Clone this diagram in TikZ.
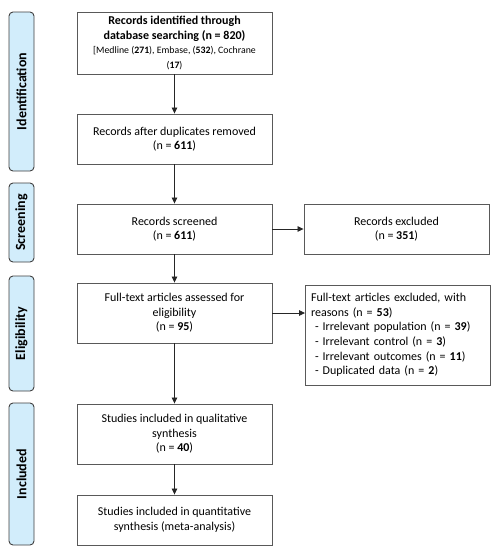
\documentclass[tikz,border=0pt]{standalone}
\usepackage{fontspec}
\setmainfont{Carlito}
\usetikzlibrary{arrows.meta}
\definecolor{sidefill}{HTML}{D2EDFB}
\definecolor{sidedraw}{HTML}{3F3F3F}
\definecolor{boxdraw}{HTML}{595959}
\tikzset{
  flowbox/.style={draw=boxdraw, line width=0.9pt, fill=white, inner sep=0pt, align=center,
    font=\fontsize{12}{14.6}\selectfont},
  sidebox/.style={draw=sidedraw, line width=0.9pt, fill=sidefill, rounded corners=4pt,
    minimum width=25pt, inner sep=0pt},
  sidelabel/.style={rotate=90, font=\fontsize{14}{16}\selectfont\bfseries},
  flowarrow/.style={draw=black!85, line width=0.8pt, -{Triangle[length=6pt,width=5.5pt]}}
}
\begin{document}
\begin{tikzpicture}[x=1pt,y=-1pt]
\useasboundingbox (0,0) rectangle (499,550);
% side bars
\node[sidebox, minimum height=159pt] (sid) at (21.5,91.5) {};
\node[sidelabel] (lid) at (sid.center) {Identification};
\node[sidebox, minimum height=79pt] (ssc) at (21.5,222.5) {};
\node[sidelabel] (lsc) at (ssc.center) {Screening};
\node[sidebox, minimum height=115pt] (sel) at (21.5,333.5) {};
\node[sidelabel] (lel) at (sel.center) {Eligibility};
\node[sidebox, minimum height=142pt] (sin) at (21.5,474) {};
\node[sidelabel] (lin) at (sin.center) {Included};
% main boxes
\node[flowbox, minimum width=195pt, minimum height=62pt] (b1) at (174.5,43)
  {\textbf{Records identified through}\\\textbf{database searching (n = 820)}\\[-0.5pt]
   {\fontsize{9.8}{14}\selectfont [Medline (\textbf{271}), Embase, (\textbf{532}), Cochrane}\\
   {\fontsize{9.8}{14}\selectfont (\textbf{17})}};
\node[flowbox, minimum width=195pt, minimum height=50pt] (b2) at (174.5,139)
  {Records after duplicates removed\\(n = \textbf{611})};
\node[flowbox, minimum width=195pt, minimum height=50pt] (b3) at (174.5,229)
  {Records screened\\(n = \textbf{611})};
\node[flowbox, minimum width=185pt, minimum height=50pt] (r3) at (396.5,229)
  {Records excluded\\(n = \textbf{351})};
\node[flowbox, minimum width=195pt, minimum height=60pt] (b4) at (174.5,313)
  {Full-text articles assessed for\\eligibility\\(n = \textbf{95})};
\node[flowbox, minimum width=185pt, minimum height=100pt, align=left, text width=174pt] (r4) at (398,335)
  {Full-text articles excluded, with\\reasons (n = \textbf{53})\\
   \hspace*{4pt}- Irrelevant population (n = \textbf{39})\\
   \hspace*{4pt}- Irrelevant control (n = \textbf{3})\\
   \hspace*{4pt}- Irrelevant outcomes (n = \textbf{11})\\
   \hspace*{4pt}- Duplicated data (n = \textbf{2})};
\node[flowbox, minimum width=195pt, minimum height=60pt] (b5) at (174.5,434)
  {Studies included in qualitative\\synthesis\\(n = \textbf{40})};
\node[flowbox, minimum width=195pt, minimum height=50pt] (b6) at (174.5,520)
  {Studies included in quantitative\\synthesis (meta-analysis)};
% arrows
\draw[flowarrow] (b1) -- (b2);
\draw[flowarrow] (b2) -- (b3);
\draw[flowarrow] (b3) -- (r3);
\draw[flowarrow] (b3) -- (b4);
\draw[flowarrow] (b4.east) -- (b4.east -| r4.west);
\draw[flowarrow] (b4) -- (b5);
\draw[flowarrow] (b5) -- (b6);
\end{tikzpicture}
\end{document}
